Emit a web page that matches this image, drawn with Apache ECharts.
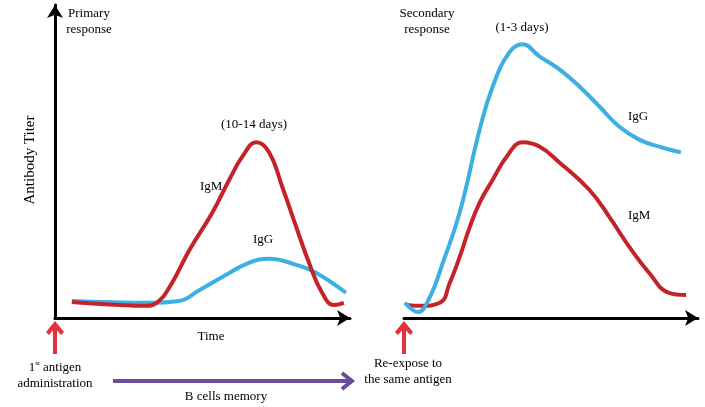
<!DOCTYPE html>
<html>
<head>
<meta charset="utf-8">
<script src="https://cdn.jsdelivr.net/npm/echarts@6/dist/echarts.min.js"></script>
<style>
html,body{margin:0;padding:0;background:#fff;}
#c{width:705px;height:407px;}
</style>
</head>
<body>
<div id="c"></div>
<script>
// Time (arbitrary units 0-100) and antibody titer (arbitrary 0-100)
var primaryIgM = [[5.8,5.3],[22.3,4.3],[30.8,4.0],[34.9,5.0],[39.4,10.2],[46.2,22.4],[54.1,34.7],[59.9,45.5],[64.4,53.1],[69.2,57.8],[73.6,54.5],[78.1,43.2],[82.9,30.0],[87.3,18.2],[91.8,8.3],[95.9,4.3],[99.3,5.0]];
var primaryIgG = [[5.8,5.6],[32.5,5.0],[42.5,5.6],[49.7,9.2],[57.5,13.5],[66.8,18.2],[73.6,19.5],[82.9,17.5],[89.7,14.9],[100,8.3]];
var secondaryIgG = [[0.3,5.0],[4.8,2.0],[8.9,6.9],[13.4,18.2],[19.2,34.7],[26.1,62.0],[30.6,76.2],[36.4,87.5],[40.9,90.1],[46.7,86.1],[53.6,81.8],[60.5,76.2],[67.4,69.6],[74.2,63.0],[81.1,58.7],[89.0,56.1],[95.5,54.5]];
var secondaryIgM = [[1.0,4.3],[5.5,4.0],[12.4,5.0],[15.8,11.6],[19.2,20.1],[22.7,30.0],[26.1,38.0],[30.6,45.5],[35.4,53.1],[40.9,57.8],[46.7,56.4],[53.6,51.2],[63.9,42.2],[70.8,33.3],[77.7,23.4],[84.5,14.9],[91.4,8.3],[97.3,7.6]];
var seriesNames = ['IgM', 'IgG'];

var RED = '#c5232a', BLUE = '#3cb0e2', FONT = 'Liberation Serif', TXT = '#000';
var chart = echarts.init(document.getElementById('c'));

function axisBase(showLine, arrow, max) {
  return {
    type: 'value', min: 0, max: max,
    axisLine: { show: showLine, lineStyle: { color: '#000', width: 3 }, symbol: arrow ? ['none', 'arrow'] : 'none', symbolSize: [12, 13] },
    axisTick: { show: false }, axisLabel: { show: false }, splitLine: { show: false }
  };
}
function lineSeries(name, data, color, xi) {
  return { name: name, type: 'line', xAxisIndex: xi, yAxisIndex: xi, data: data, smooth: 0.45,
    showSymbol: false, symbol: 'none', lineStyle: { color: color, width: 4 }, itemStyle: { color: color }, z: 3 };
}
function txt(x, y, text, opts) {
  opts = opts || {};
  return { type: 'text', x: x, y: y, rotation: opts.rotation || 0, z: 10,
    style: { text: text, fill: TXT, font: (opts.size || 13) + 'px "' + FONT + '"', align: opts.align || 'center',
      verticalAlign: 'middle', lineHeight: opts.lh || 16, rich: opts.rich } };
}

chart.setOption({
  animation: false,
  backgroundColor: '#fff',
  grid: [
    { left: 55, top: 5, width: 295, height: 313 },
    { left: 404, top: 5, width: 294, height: 313 }
  ],
  xAxis: [ Object.assign(axisBase(true, true, 101.4), { gridIndex: 0 }), Object.assign(axisBase(true, true, 101.4), { gridIndex: 1 }) ],
  yAxis: [ Object.assign(axisBase(true, true, 103), { gridIndex: 0 }), Object.assign(axisBase(false, false, 103), { gridIndex: 1 }) ],
  series: [
    lineSeries(seriesNames[1], primaryIgG, BLUE, 0),
    lineSeries(seriesNames[0], primaryIgM, RED, 0),
    lineSeries(seriesNames[0], secondaryIgM, RED, 1),
    lineSeries(seriesNames[1], secondaryIgG, BLUE, 1)
  ]
});

var o1 = chart.convertToPixel({ gridIndex: 0 }, [0, 0]);
var o2 = chart.convertToPixel({ gridIndex: 1 }, [0, 0]);
var e1 = chart.convertToPixel({ gridIndex: 0 }, [100, 0]);

function upArrow(x, y0) {
  var c = '#e5323a';
  return [
    { type: 'line', shape: { x1: x, y1: y0 + 6, x2: x, y2: y0 + 36 }, style: { stroke: c, lineWidth: 4 } },
    { type: 'polygon', shape: { points: [[x, y0 + 3], [x + 9, y0 + 14], [x + 6, y0 + 17], [x, y0 + 10], [x - 6, y0 + 17], [x - 9, y0 + 14]] }, style: { fill: c } }
  ];
}
var purple = '#6b4b9b';
var py = o1[1] + 63;
var graphics = [].concat(
  upArrow(o1[0], o1[1]),
  upArrow(o2[0], o2[1]),
  [
    { type: 'line', shape: { x1: o1[0] + 58, y1: py, x2: e1[0] + 4, y2: py }, style: { stroke: purple, lineWidth: 4 } },
    { type: 'polyline', shape: { points: [[e1[0] - 4, py - 8], [e1[0] + 6, py], [e1[0] - 4, py + 8]] }, style: { stroke: purple, lineWidth: 4, fill: null, lineJoin: 'miter' } },
    txt(89, 22, 'Primary\nresponse'),
    txt(427, 22, 'Secondary\nresponse'),
    txt(522, 28, '(1-3 days)'),
    txt(254, 125, '(10-14 days)'),
    txt(200, 187, 'IgM', { align: 'left' }),
    txt(253, 240, 'IgG', { align: 'left' }),
    txt(628, 117, 'IgG', { align: 'left' }),
    txt(628, 216, 'IgM', { align: 'left' }),
    txt(30, 160, 'Antibody Titer', { rotation: Math.PI / 2, size: 15 }),
    txt(211, 337, 'Time'),
    txt(55, 376, '1{sup|st} antigen\nadministration', { rich: { sup: { font: '7px "' + FONT + '"', verticalAlign: 'top', fill: TXT, padding: [0, 0, 6, 0] } } }),
    txt(408, 372, 'Re-expose to\nthe same antigen'),
    txt(226, 397, 'B cells memory')
  ]
);
chart.setOption({ graphic: graphics });
</script>
</body>
</html>
